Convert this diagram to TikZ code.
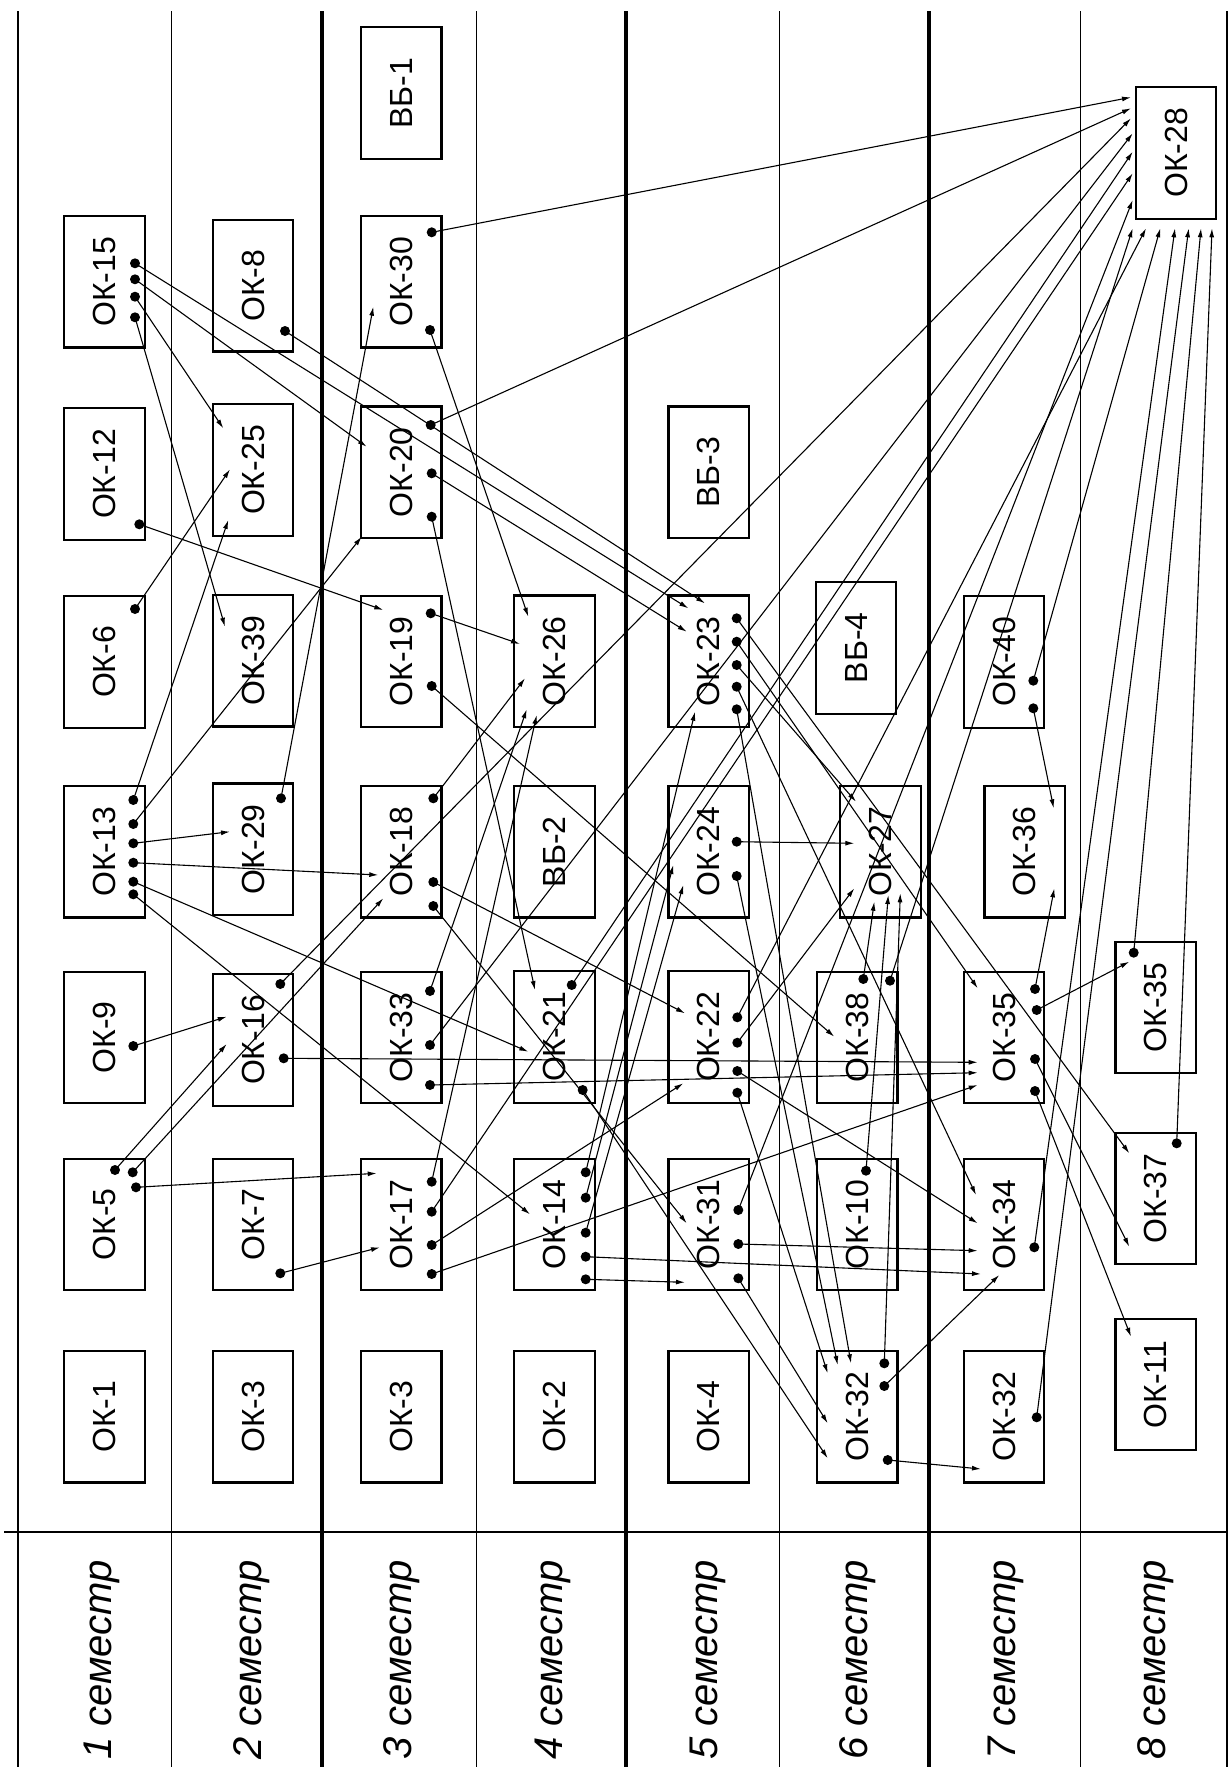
\documentclass[tikz,border=0pt]{standalone}
\usepackage{fontspec}
\setmainfont{Liberation Sans}
\usetikzlibrary{arrows.meta}
\tikzset{
 box/.style={draw, line width=2.2pt, rotate=90, minimum width=131.5pt, minimum height=80.5pt, inner sep=0pt, font=\fontsize{32}{32}\selectfont},
 dotn/.style={circle, fill, inner sep=0pt, minimum size=10pt},
 arr/.style={line width=1.1pt, -{Latex[length=9pt,width=5pt]}},
 sem/.style={rotate=90, font=\fontsize{40}{40}\selectfont\itshape},
 thinl/.style={line width=1pt},
 medl/.style={line width=2pt},
 thickl/.style={line width=4pt},
}
\begin{document}
\begin{tikzpicture}[x=1pt,y=-1pt]
\useasboundingbox (0,0) rectangle (1231,1767);
% grid
\draw[medl] (18.3,11) -- (18.3,1767);
\foreach \x in {171.7,476.7,779,1080.3} \draw[thinl] (\x,11) -- (\x,1767);
\foreach \x in {322.3,626,929.3} \draw[thickl] (\x,11) -- (\x,1767);
\draw[medl] (1227,11) -- (1227,1767);
\draw[medl] (4,1532.3) -- (1227,1532.3);
% semester labels
\foreach \x/\k in {102/1,252/2,402/3,552.5/4,708/5,858/6,1006/7,1156/8}
  \node[sem] (sem\k) at (\x,1660) {\k\ семестр};
% boxes
\foreach \n/\x/\y/\t in {
 a1/104.5/1416.7/ОК-1, a5/104.5/1224.5/ОК-5, a9/104.5/1037.5/ОК-9, a13/104.5/851.7/ОК-13,
 a6/104.5/661.9/ОК-6, a12/104.5/474/ОК-12, a15/104.5/281.7/ОК-15,
 b3/253/1416.7/ОК-3, b7/253/1224.5/ОК-7, b16/253/1040/ОК-16, b29/253/849.3/ОК-29,
 b39/253/660.7/ОК-39, b25/253/470/ОК-25, b8/253/285.7/ОК-8,
 c3/401.3/1416.7/ОК-3, c17/401.3/1224.5/ОК-17, c33/401.3/1037.4/ОК-33, c18/401.3/851.7/ОК-18,
 c19/401.3/661.4/ОК-19, c20/401.3/472.3/ОК-20, c30/401.3/281.7/ОК-30, cv1/401.3/93/ВБ-1,
 e2/554.5/1416.7/ОК-2, e14/554.5/1224.5/ОК-14, e21/554.5/1037/ОК-21, ev2/554.5/851.7/ВБ-2,
 e26/554.5/661.3/ОК-26,
 f4/708.8/1416.7/ОК-4, f31/708.8/1224.5/ОК-31, f22/708.8/1037/ОК-22, f24/708.8/851.7/ОК-24,
 f23/708.8/661.3/ОК-23, fv3/708.8/472.3/ВБ-3,
 g32/857.2/1416.7/ОК-32, g10/857.2/1224.5/ОК-10, g38/857.2/1037.4/ОК-38, g27/880.5/851.7/ОК-27,
 gv4/856/647.9/ВБ-4,
 h32/1004/1416.7/ОК-32, h34/1004/1224.5/ОК-34, h35/1004/1037.4/ОК-35, h36/1024.7/851.7/ОК-36,
 h40/1004/661.9/ОК-40,
 k11/1155.7/1384.5/ОК-11, k37/1155.7/1198.4/ОК-37, k35/1155.7/1007.4/ОК-35, k28/1176/153/ОК-28}
  \node[box] (\n) at (\x,\y) {\t};
% connectors: source dot -> arrow tip
\foreach \sx/\sy/\tx/\ty [count=\i] in {
 135/263.3/688.3/608.3, 135/279.3/366.7/446.7, 135/296.7/223.3/428.3, 135/317.3/225/626.7,
 285/331/705/603.3, 431.7/232.3/1131/97.3, 430/330/528.3/616.7, 430.7/425/1131/108.3,
 431.7/473.3/686.7/631.7, 431.7/516.7/535/990, 139.3/524.3/383.3/610, 135/609/230/469.3,
 430.7/613.3/520/644, 431.7/686/834.3/1036.7, 133.3/800/228.3/520, 133.3/824/361.7/536.7,
 133.3/843.3/230/831.7, 133.3/862.7/378.3/875, 133.3/881.7/528.3/1051.7, 133.3/894.3/530/1214.3,
 281/798.3/373.3/306.7, 133.3/1046/226.7/1016.7, 115/1170/226.7/1044, 132.7/1172.3/383.3/898.3,
 136/1187.3/376.7/1173.3, 280.3/1273.3/380/1247.3, 280.3/984/1131/118.3, 283.7/1058.3/977.7/1062.3,
 433.3/798.3/525/678.3, 433.3/882/685/1013.3, 433.3/906/686.7/1223.3, 430/991/526.7/709.3,
 430/1045/1132.7/133.3, 430/1085/977.7/1072.7, 431.7/1181.7/536.7/715, 431.7/1211.7/1132.7/173.3,
 431.7/1245/683.3/1083.3, 431.7/1274/977.7/1085, 585.7/1172.3/695/711.7, 585.7/1197.7/673.3/865,
 585.7/1232.7/683.3/885, 585.7/1256.7/981/1274, 585.7/1279.3/685/1282.3, 571.7/985/1132.7/151.7,
 582.7/1090/827.7/1458.3, 737.3/1017.3/1146/228.3, 737.3/1042.7/854.3/888.3, 737.3/1071/977.7/1223.3,
 737.3/1092.7/827.7/1373.3, 736.7/841.7/854.3/843.3, 736.7/876/837.7/1365, 738.3/1210/1132.7/200,
 738.3/1244/977.7/1250.7, 738.3/1278.3/827.7/1423.3, 736.7/618.3/1129.3/1153.3, 736.7/641.7/977.7/988.3,
 736.7/665/856/801.7, 736.7/686.7/976/1195, 736.7/709.3/851/1363.3, 1033.3/680.7/1160.3/228.3,
 1033.3/708.3/1053.7/808.3, 1035/989/1054.3/888.3, 1036.7/1010/1129.3/961.7, 1035/1059/1129.3/1246.7,
 1035/1091/1131/1336.7, 1034.3/1247.3/1175/228.3, 1036.7/1417.3/1188.7/228.3, 1133.7/952.7/1201/228.3,
 1176.7/1143.3/1212/228.3, 863.3/979/874.3/901.7, 890/980.7/1132.7/228.3, 866/1170.7/888.3/895,
 884.3/1363.3/900.3/893.3, 884.3/1386/999.3/1275, 887.7/1460/981/1469}
{
  \node[dotn] (d\i) at (\sx,\sy) {};
  \coordinate (t\i) at (\tx,\ty);
  \draw[arr] (d\i.center) -- (t\i);
}
\end{tikzpicture}
\end{document}
